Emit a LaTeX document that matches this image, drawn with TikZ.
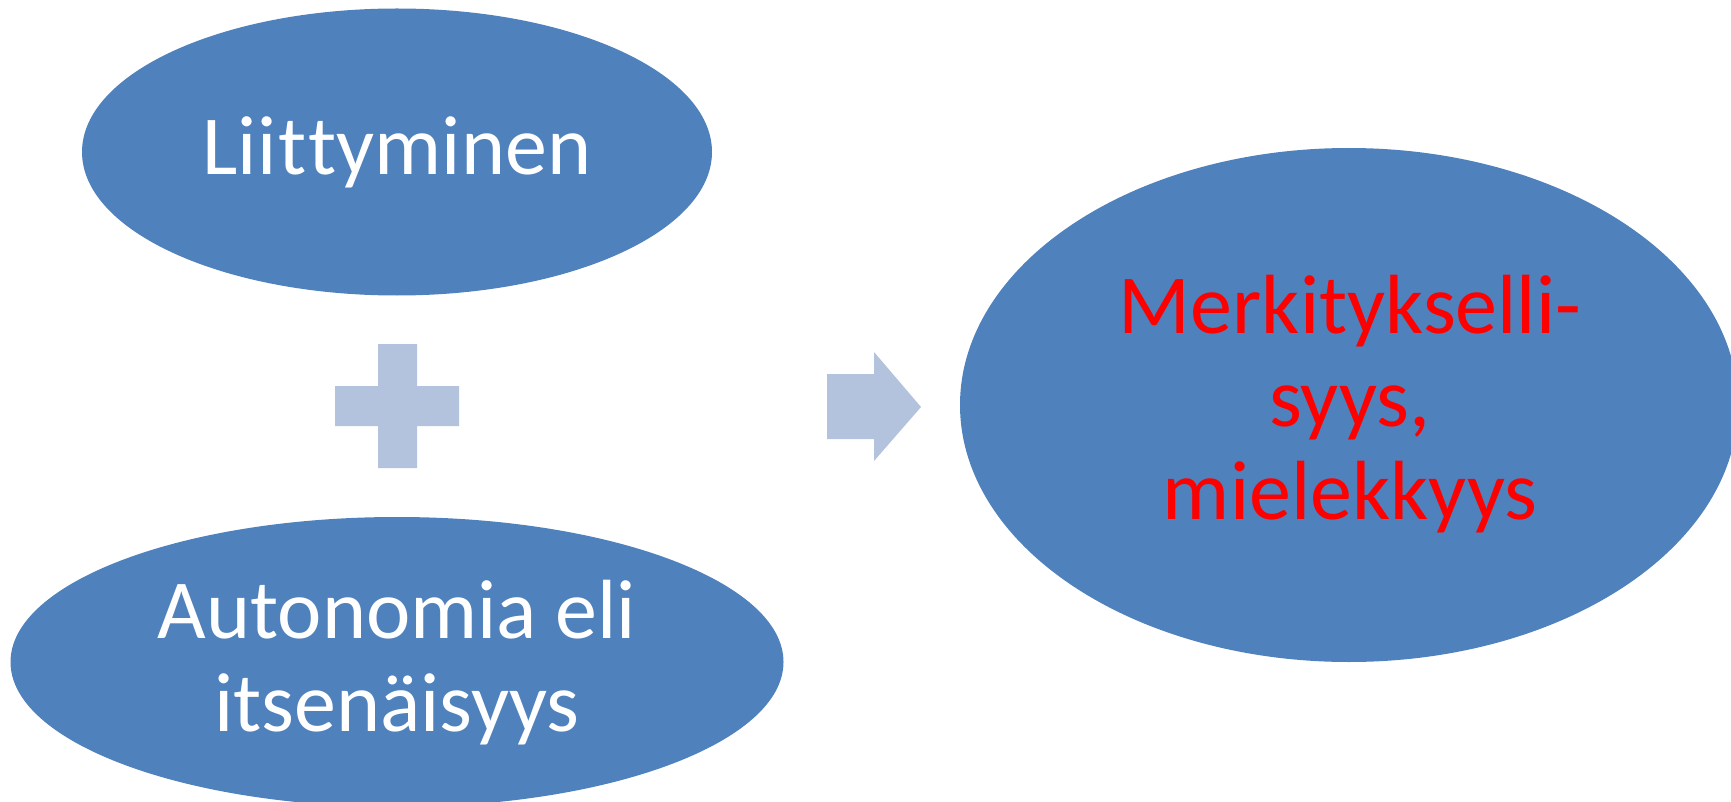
\documentclass[tikz,border=0pt]{standalone}
\usepackage{fontspec}
\setmainfont{Carlito}[Ligatures={NoCommon,NoContextual,NoRequired}]
\usetikzlibrary{shapes.geometric}
\definecolor{blobblue}{HTML}{4F81BD}
\definecolor{symblue}{HTML}{B3C2DD}
\begin{document}
\begin{tikzpicture}[x=1pt,y=-1pt,
  blob/.style={ellipse, fill=blobblue, draw=none, inner sep=0pt},
  lbl/.style={anchor=base, inner sep=0pt, font=\fontsize{84}{93}\selectfont},
  symb/.style={fill=symblue, draw=none}]
\useasboundingbox (0,0) rectangle (1731,802);
\clip (0,0) rectangle (1731,802);
% ellipses
\node[blob, minimum width=630pt, minimum height=287pt] (top) at (397,152) {};
\node[blob, minimum width=773pt, minimum height=290pt] (bot) at (397,662) {};
\node[blob, minimum width=778pt, minimum height=514pt] (res) at (1349,405) {};
% labels
\node[lbl, text=white] (topl) at (397,175) {Lii\kern2pt t\kern2pt tyminen};
\node[lbl, text=white] (botl1) at (397,638) {Autonomia eli};
\node[lbl, text=white] (botl2) at (397,731) {itsenäisyys};
\node[lbl, text=red] (resl1) at (1350,333) {Merkitykselli-};
\node[lbl, text=red] (resl2) at (1350,426) {syys,};
\node[lbl, text=red] (resl3) at (1350,519) {mielekkyys};
% plus sign
\fill[symb] (378,344) -- (417,344) -- (417,386) -- (459,386) -- (459,426) -- (417,426)
  -- (417,468) -- (378,468) -- (378,426) -- (335,426) -- (335,386) -- (378,386) -- cycle;
% arrow
\fill[symb] (827,374) -- (874,374) -- (874,352) -- (921,407) -- (874,461) -- (874,439)
  -- (827,439) -- cycle;
\end{tikzpicture}
\end{document}
